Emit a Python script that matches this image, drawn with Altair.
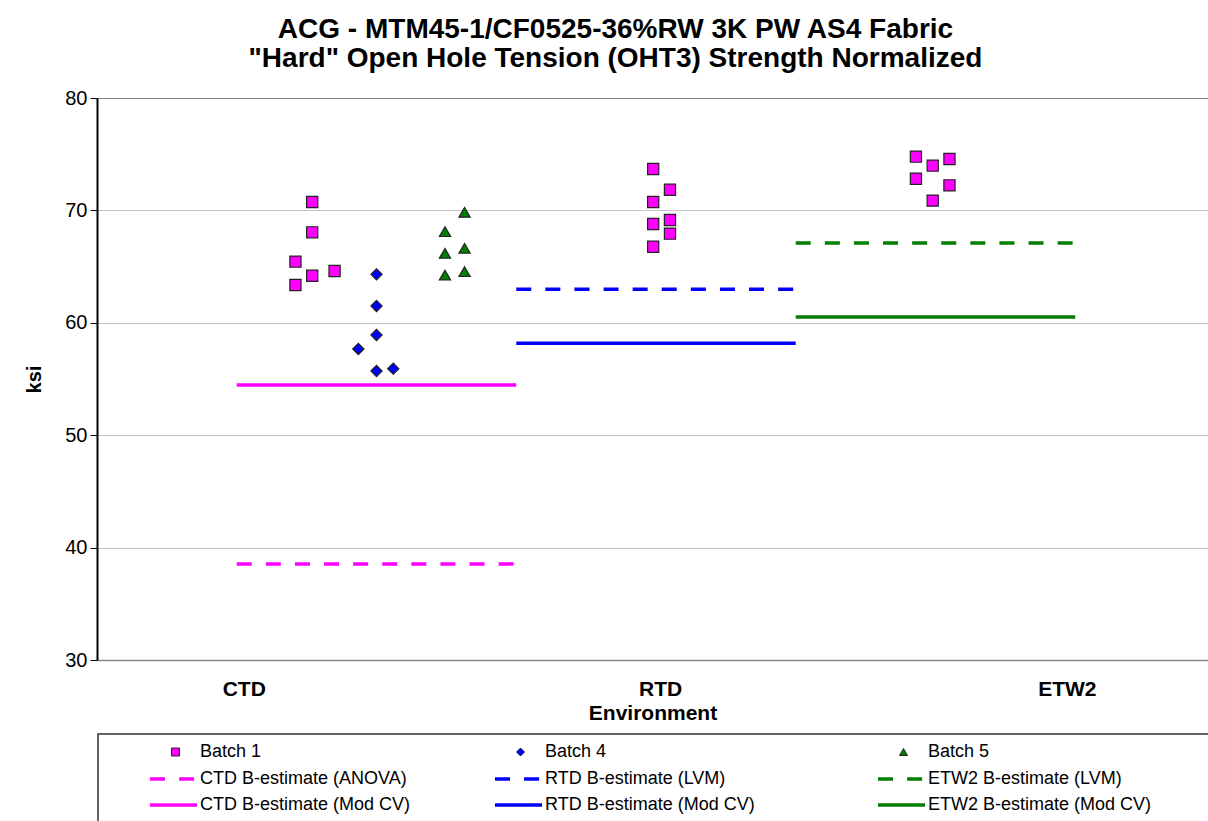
import json
import altair as alt
import pandas as pd

FONT = "Liberation Sans"

# ---------------- data ----------------
environments = ["CTD", "RTD", "ETW2"]
env_label_pos = [1.05, 4.03, 6.94]

batch_names = ["Batch 1", "Batch 4", "Batch 5"]

ctd_b1_x = [1.54, 1.54, 1.42, 1.54, 1.70, 1.42]
ctd_b1_y = [70.75, 68.05, 65.44, 64.19, 64.61, 63.36]
ctd_b4_x = [2.00, 2.00, 2.00, 1.87, 2.00, 2.12]
ctd_b4_y = [64.31, 61.50, 58.92, 57.67, 55.71, 55.92]
ctd_b5_x = [2.63, 2.49, 2.49, 2.63, 2.49, 2.63]
ctd_b5_y = [69.83, 68.11, 66.18, 66.63, 64.25, 64.55]
rtd_b1_x = [3.98, 4.10, 3.98, 3.98, 4.10, 4.10, 3.98]
rtd_b1_y = [73.68, 71.84, 70.75, 68.79, 69.15, 67.93, 66.77]
etw2_b1_x = [5.86, 5.98, 6.10, 5.86, 6.10, 5.98]
etw2_b1_y = [74.78, 73.98, 74.57, 72.82, 72.23, 70.87]

basis_labels = [
    "CTD B-estimate (ANOVA)",
    "RTD B-estimate (LVM)",
    "ETW2 B-estimate (LVM)",
    "CTD B-estimate (Mod CV)",
    "RTD B-estimate (Mod CV)",
    "ETW2 B-estimate (Mod CV)",
]
basis_start = [1, 3, 5, 1, 3, 5]
basis_end = [3, 5, 7, 3, 5, 7]
basis_values = [38.55, 62.98, 67.10, 54.47, 58.18, 60.52]

y_ticks = [30, 40, 50, 60, 70, 80]

# ---------------- styles ----------------
batch_shapes = ["square", "diamond", "triangle-up"]
batch_colors = ["#FF00FF", "#0000FF", "#008000"]
basis_colors = ["#FF00FF", "#0000FF", "#008000", "#FF00FF", "#0000FF", "#008000"]
basis_kind = ["dash", "dash", "dash", "solid", "solid", "solid"]
DASH = [15, 14.1]

# legend layout (canvas pixels)
LEG_LEFT, LEG_TOP = 98, 734
LEG_SYM_X0 = [150, 495, 878]
LEG_SYM_W = 47
LEG_TEXT_DX = 50
LEG_ROW_Y = [752, 779, 805]

# ---------------- tables ----------------
pt_rows = []
for env, batch, xs, ys in [
    ("CTD", "Batch 1", ctd_b1_x, ctd_b1_y),
    ("CTD", "Batch 4", ctd_b4_x, ctd_b4_y),
    ("CTD", "Batch 5", ctd_b5_x, ctd_b5_y),
    ("RTD", "Batch 1", rtd_b1_x, rtd_b1_y),
    ("ETW2", "Batch 1", etw2_b1_x, etw2_b1_y),
]:
    for xv, yv in zip(xs, ys):
        pt_rows.append({"env": env, "batch": batch, "x": xv, "y": yv})
points = pd.DataFrame(pt_rows)

basis = pd.DataFrame({
    "label": basis_labels,
    "x0": basis_start,
    "x1": basis_end,
    "value": basis_values,
    "kind": basis_kind,
})

X_SCALE = alt.Scale(domain=[0, 7.95], nice=False, zero=False)
Y_SCALE = alt.Scale(domain=[30, 80], nice=False, zero=False)

label_expr = "{}[indexof({}, datum.value)]".format(
    json.dumps(environments).replace('"', "'"), json.dumps(env_label_pos)
)

x_axis = alt.Axis(
    values=env_label_pos, labelExpr=label_expr, title="Environment",
    grid=False, ticks=False, tickSize=0, domain=True,
    domainColor="#888888", domainWidth=1.5,
    labelFont=FONT, labelFontSize=21, labelFontWeight="bold", labelColor="black",
    labelPadding=18, labelFlush=False, labelOverlap=False,
    titleFont=FONT, titleFontSize=21, titleFontWeight="bold", titleColor="black",
    titlePadding=3,
)
y_axis = alt.Axis(
    values=y_ticks, title="ksi", grid=True,
    gridColor={"condition": {"test": "datum.value === 80", "value": "#888888"},
               "value": "#c4c4c4"},
    gridWidth=1.2,
    ticks=True, tickSize=7, tickColor="black", tickWidth=1,
    domainColor="black", domainWidth=2,
    labelFont=FONT, labelFontSize=20, labelColor="black", labelPadding=3,
    titleFont=FONT, titleFontSize=20, titleFontWeight="bold", titleColor="black",
    titlePadding=20,
)

pts_layer = alt.Chart(points).mark_point(
    filled=True, size=125, stroke="#222222", strokeWidth=1.2, opacity=1
).encode(
    x=alt.X("x:Q", scale=X_SCALE, axis=x_axis),
    y=alt.Y("y:Q", scale=Y_SCALE, axis=y_axis),
    shape=alt.Shape("batch:N", scale=alt.Scale(domain=batch_names, range=batch_shapes), legend=None),
    fill=alt.Fill("batch:N", scale=alt.Scale(domain=batch_names, range=batch_colors), legend=None),
)

rule_layer = alt.Chart(basis).mark_rule(strokeWidth=3.5).encode(
    x=alt.X("x0:Q", scale=X_SCALE, axis=x_axis),
    x2="x1:Q",
    y=alt.Y("value:Q", scale=Y_SCALE, axis=y_axis),
    color=alt.Color("label:N", scale=alt.Scale(domain=basis_labels, range=basis_colors), legend=None),
    strokeDash=alt.StrokeDash("kind:N", scale=alt.Scale(domain=["dash", "solid"], range=[DASH, [1, 0]]), legend=None),
)

main = alt.layer(rule_layer, pts_layer)

# ---------------- manual legend ----------------
leg_labels = batch_names + basis_labels
leg_colors = batch_colors + basis_colors
leg_rows = []
for i, lab in enumerate(leg_labels):
    col, row = i % 3, i // 3
    x0 = LEG_SYM_X0[col]
    leg_rows.append({
        "label": lab,
        "kind": "marker" if row == 0 else ("dash" if row == 1 else "solid"),
        "shape": batch_shapes[col] if row == 0 else "",
        "color": leg_colors[i],
        "x0": x0, "x1": x0 + LEG_SYM_W, "xm": x0 + LEG_SYM_W / 2 + 2,
        "xt": x0 + LEG_TEXT_DX, "y": LEG_ROW_Y[row],
    })
legend_df = pd.DataFrame(leg_rows)

LX = alt.Scale(domain=[0, 1208], range=[-97, 1111], nice=False, zero=False)
LY = alt.Scale(domain=[0, 821], range=[-98, 723], nice=False, zero=False)

box = alt.Chart(pd.DataFrame({"x0": [LEG_LEFT], "x1": [1300], "y0": [LEG_TOP], "y1": [900]})).mark_rect(
    fill="white", fillOpacity=0, stroke="#333333", strokeWidth=1.5
).encode(
    x=alt.X("x0:Q", scale=LX, axis=None), x2="x1:Q",
    y=alt.Y("y0:Q", scale=LY, axis=None), y2="y1:Q",
)

leg_base = alt.Chart(legend_df)
leg_markers = leg_base.transform_filter("datum.kind === 'marker'").mark_point(
    filled=True, size=64, stroke="#222222", strokeWidth=1, opacity=1
).encode(
    x=alt.X("xm:Q", scale=LX, axis=None),
    y=alt.Y("y:Q", scale=LY, axis=None),
    shape=alt.Shape("shape:N", scale=None),
    fill=alt.Fill("color:N", scale=None),
)
leg_dash = leg_base.transform_filter("datum.kind === 'dash'").mark_rule(
    strokeWidth=3.5, strokeDash=DASH
).encode(
    x=alt.X("x0:Q", scale=LX, axis=None), x2="x1:Q",
    y=alt.Y("y:Q", scale=LY, axis=None),
    color=alt.Color("color:N", scale=None),
)
leg_solid = leg_base.transform_filter("datum.kind === 'solid'").mark_rule(
    strokeWidth=3.5
).encode(
    x=alt.X("x0:Q", scale=LX, axis=None), x2="x1:Q",
    y=alt.Y("y:Q", scale=LY, axis=None),
    color=alt.Color("color:N", scale=None),
)
leg_text = leg_base.mark_text(
    align="left", baseline="middle", font=FONT, fontSize=18, color="black"
).encode(
    x=alt.X("xt:Q", scale=LX, axis=None),
    y=alt.Y("y:Q", scale=LY, axis=None),
    text="label:N",
)

legend = alt.layer(box, leg_dash, leg_solid, leg_markers, leg_text)

chart = alt.layer(main, legend).resolve_scale(
    x="independent", y="independent", color="independent",
    shape="independent", fill="independent", strokeDash="independent",
).properties(
    width=1111, height=562,
    padding={"left": 97, "top": 98, "right": 0, "bottom": 161},
    autosize=alt.AutoSizeParams(type="none"),
    title=alt.Title(
        ["ACG - MTM45-1/CF0525-36%RW 3K PW AS4 Fabric",
         "\"Hard\" Open Hole Tension (OHT3) Strength Normalized"],
        font=FONT, fontSize=28, fontWeight="bold", color="black",
        anchor="middle", frame="group", dx=-37, offset=15, lineHeight=29,
    ),
).configure_view(strokeWidth=0).configure(background="white")

chart.save("out.html", embed_options={"renderer": "svg", "actions": False})
